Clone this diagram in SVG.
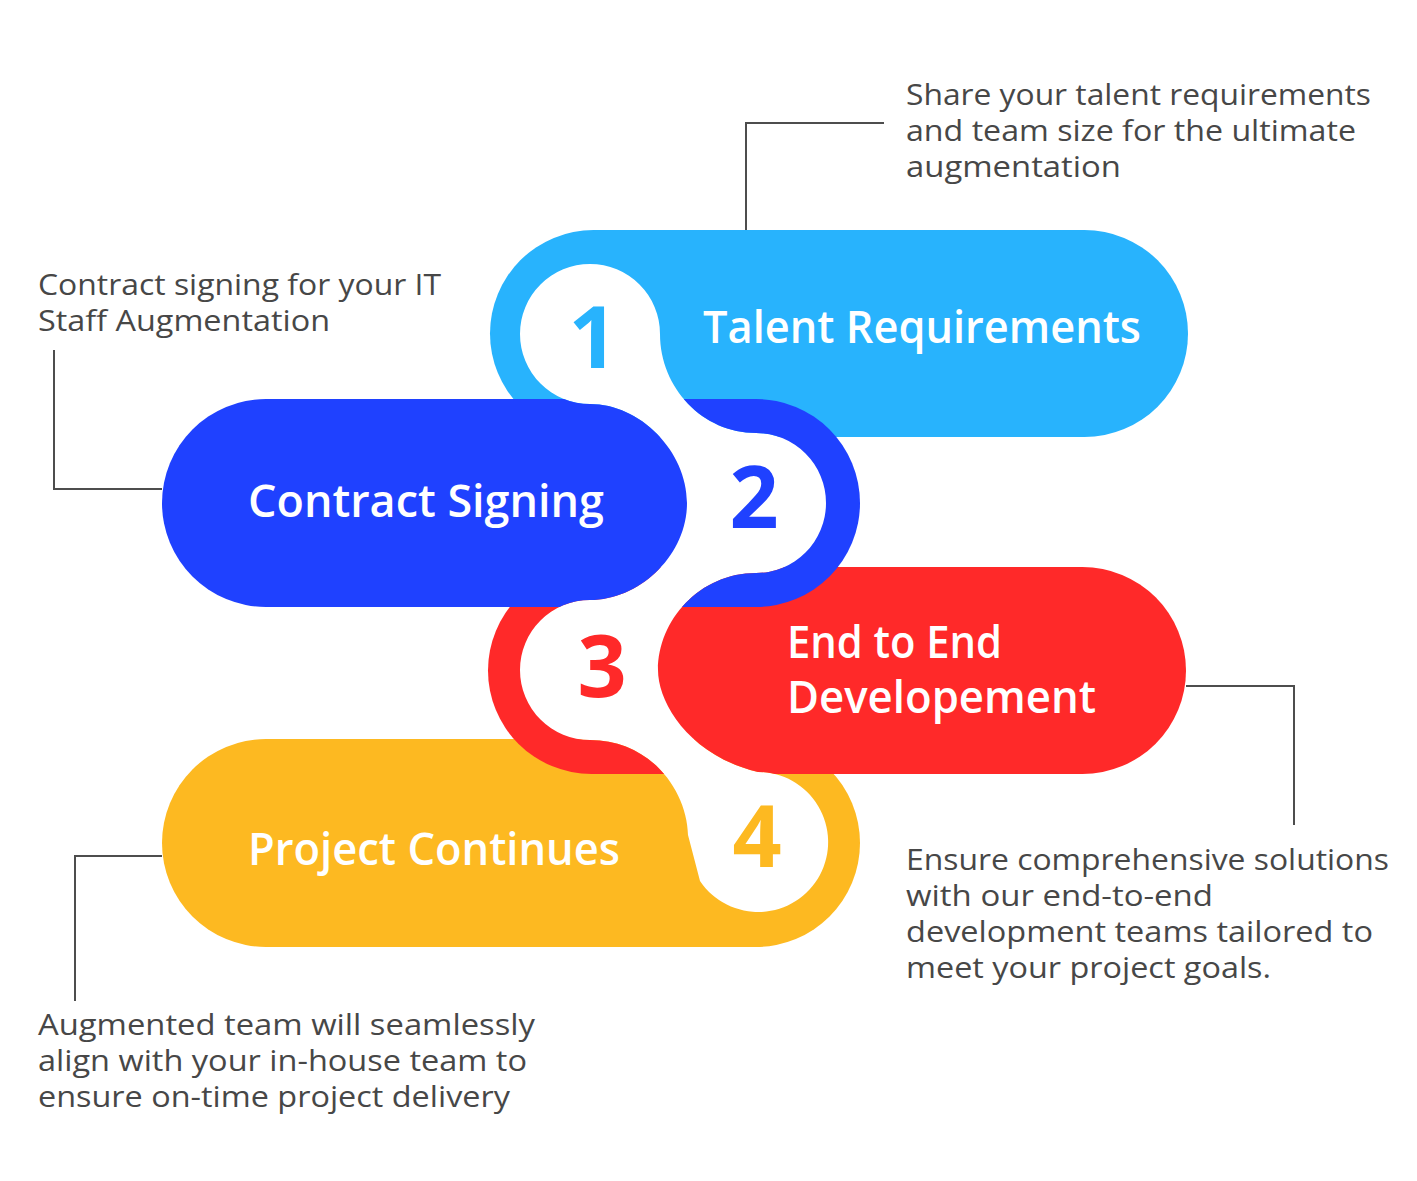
<svg xmlns="http://www.w3.org/2000/svg" width="1417" height="1181" viewBox="0 0 1417 1181">
  <style>
    .title { font-family: "Open Sans", "Liberation Sans", sans-serif; font-weight: 600; font-size: 45px; fill: #ffffff; }
    .num { font-family: "Open Sans", "Liberation Sans", sans-serif; font-weight: 700; font-size: 86px; text-anchor: middle; }
    .desc { font-family: "Open Sans", "Liberation Sans", sans-serif; font-weight: 400; font-size: 29px; fill: #474747; }
    .conn { fill: none; stroke: #4d4d4d; stroke-width: 2; }
  </style>
  <defs>
    <mask id="snake" maskUnits="userSpaceOnUse" x="0" y="0" width="1417" height="1181">
      <rect x="0" y="0" width="1417" height="1181" fill="#ffffff"/>
      <path fill="#000000" d="M 590,264 A 70,70 0 0 1 660,334 C 660,388 703,433 756,433 A 70,70 0 0 1 826,503 A 70,70 0 0 1 756,573 C 700,573 658,620 658,670 C 658,702 688,755 758,772 A 70,70 0 1 1 700,881 L 688,835 C 687,790 650,740 590,740 A 70,70 0 0 1 520,670 A 70,70 0 0 1 590,600 C 640,600 687,555 687,503 C 687,451 640,404 590,404 A 70,70 0 0 1 520,334 A 70,70 0 0 1 590,264 Z"/>
    </mask>
  </defs>
  <rect x="0" y="0" width="1417" height="1181" fill="#ffffff"/>

  <g id="connectors">
    <path class="conn" d="M 884,123 H 746 V 230"/>
    <path class="conn" d="M 54,350 V 489 H 162"/>
    <path class="conn" d="M 1186,686 H 1294 V 825"/>
    <path class="conn" d="M 162,856 H 75 V 1001"/>
  </g>

  <g id="node-1">
    <rect x="490" y="230" width="698" height="207" rx="103.5" fill="#28b3fd" mask="url(#snake)"/>
    <text class="num" x="593" y="368" fill="#28b3fd">1</text>
    <text class="title" x="703" y="343" textLength="438" lengthAdjust="spacingAndGlyphs">Talent Requirements</text>
    <text class="desc" x="906" y="105" textLength="465" lengthAdjust="spacingAndGlyphs">Share your talent requirements</text>
    <text class="desc" x="906" y="141" textLength="450" lengthAdjust="spacingAndGlyphs">and team size for the ultimate</text>
    <text class="desc" x="906" y="177" textLength="215" lengthAdjust="spacingAndGlyphs">augmentation</text>
  </g>

  <g id="node-4">
    <rect x="162" y="739" width="698" height="208" rx="104" fill="#fdb921" mask="url(#snake)"/>
    <text class="num" x="757" y="867" fill="#fdb921">4</text>
    <text class="title" x="248" y="865" textLength="372" lengthAdjust="spacingAndGlyphs">Project Continues</text>
    <text class="desc" x="38" y="1035" textLength="497" lengthAdjust="spacingAndGlyphs">Augmented team will seamlessly</text>
    <text class="desc" x="38" y="1071" textLength="489" lengthAdjust="spacingAndGlyphs">align with your in-house team to</text>
    <text class="desc" x="38" y="1107" textLength="472" lengthAdjust="spacingAndGlyphs">ensure on-time project delivery</text>
  </g>

  <g id="node-3">
    <rect x="488" y="567" width="698" height="207" rx="103.5" fill="#ff2929" mask="url(#snake)"/>
    <text class="num" x="602" y="697" fill="#ff2929">3</text>
    <text class="title" x="787" y="658" textLength="215" lengthAdjust="spacingAndGlyphs">End to End</text>
    <text class="title" x="787" y="713" textLength="309" lengthAdjust="spacingAndGlyphs">Developement</text>
    <text class="desc" x="906" y="870" textLength="483" lengthAdjust="spacingAndGlyphs">Ensure comprehensive solutions</text>
    <text class="desc" x="906" y="906" textLength="307" lengthAdjust="spacingAndGlyphs">with our end-to-end</text>
    <text class="desc" x="906" y="942" textLength="467" lengthAdjust="spacingAndGlyphs">development teams tailored to</text>
    <text class="desc" x="906" y="978" textLength="365" lengthAdjust="spacingAndGlyphs">meet your project goals.</text>
  </g>

  <g id="node-2">
    <rect x="162" y="399" width="698" height="208" rx="104" fill="#1f41ff" mask="url(#snake)"/>
    <text class="num" x="754" y="528" fill="#1f41ff">2</text>
    <text class="title" x="248" y="517" textLength="356" lengthAdjust="spacingAndGlyphs">Contract Signing</text>
    <text class="desc" x="38" y="295" textLength="403" lengthAdjust="spacingAndGlyphs">Contract signing for your IT</text>
    <text class="desc" x="38" y="331" textLength="292" lengthAdjust="spacingAndGlyphs">Staff Augmentation</text>
  </g>
</svg>
